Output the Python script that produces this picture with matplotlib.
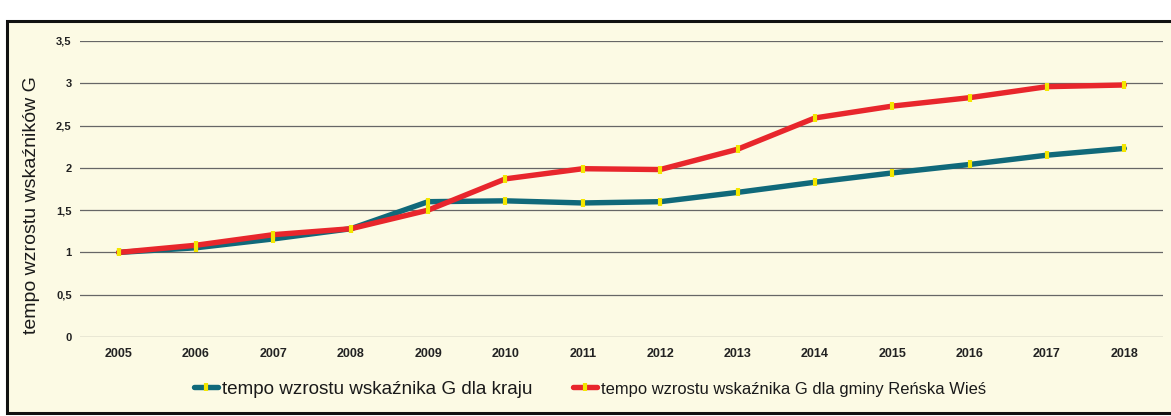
import matplotlib
matplotlib.use("Agg")
import matplotlib.pyplot as plt
from matplotlib.patches import Rectangle

years = ["2005", "2006", "2007", "2008", "2009", "2010", "2011",
         "2012", "2013", "2014", "2015", "2016", "2017", "2018"]
kraj = [1.00, 1.055, 1.16, 1.28, 1.60, 1.61, 1.585, 1.60, 1.71, 1.83, 1.94, 2.04, 2.15, 2.23]
gmina = [1.00, 1.085, 1.21, 1.28, 1.50, 1.87, 1.99, 1.98, 2.22, 2.59, 2.73, 2.83, 2.96, 2.98]
yticks = [0, 0.5, 1, 1.5, 2, 2.5, 3, 3.5]
ytick_labels = ["0", "0,5", "1", "1,5", "2", "2,5", "3", "3,5"]
label_kraj = "tempo wzrostu wskaźnika G dla kraju"
label_gmina = "tempo wzrostu wskaźnika G dla gminy Reńska Wieś"
ylabel = "tempo wzrostu wskaźników G"

W, H = 1171, 416
CREAM = "#fcfae4"
TEAL = "#10697a"
RED = "#e8262c"
YEL = "#f3e600"

plt.rcParams['font.family'] = ['Liberation Sans', 'DejaVu Sans']

fig = plt.figure(figsize=(W / 100, H / 100), dpi=100)
fig.patch.set_facecolor("white")
# cream panel with black frame
panel = Rectangle((7 / W, 3 / H), 1.2, (413 - 21) / H, transform=fig.transFigure,
                  facecolor=CREAM, edgecolor="#111111", linewidth=2.2, zorder=-10)
fig.add_artist(panel)

ax = fig.add_axes([80 / W, (H - 337) / H, (1163 - 80) / W, (337 - 41) / H])
ax.set_zorder(2)
ax.set_facecolor("none")
x = list(range(len(years)))

ax.plot(x, kraj, color=TEAL, lw=3.9, solid_capstyle="round", zorder=3,
        marker="|", markersize=5.5, markeredgewidth=3.0, markeredgecolor=YEL,
        label=label_kraj)
ax.plot(x, gmina, color=RED, lw=3.9, solid_capstyle="round", zorder=4,
        marker="|", markersize=5.5, markeredgewidth=3.0, markeredgecolor=YEL,
        label=label_gmina)

ax.set_xlim(-0.5, len(years) - 0.5)
ax.set_ylim(0, 3.5)
ax.set_yticks(yticks)
ax.set_yticklabels(ytick_labels)
ax.set_xticks(x)
ax.set_xticklabels(years)
ax.grid(axis="y", color="#666666", lw=0.9, zorder=1)
ax.set_axisbelow(True)
for s in ax.spines.values():
    s.set_visible(False)
ax.tick_params(axis="both", length=0, colors="#222222")
ax.tick_params(axis="x", pad=8, labelsize=9)
ax.tick_params(axis="y", pad=6, labelsize=8)
for t in ax.get_xticklabels() + ax.get_yticklabels():
    t.set_fontweight("bold")

fig.text(32 / W, (H - 205) / H, ylabel, rotation=90, ha="center", va="center",
         fontsize=14, color="#1a1a1a")

leg = fig.legend(loc="center", bbox_to_anchor=(590 / W, (H - 389) / H), ncol=2,
                 frameon=False, fontsize=13.6, handlelength=1.3, handletextpad=0.2,
                 columnspacing=2.15, numpoints=1)
texts = leg.get_texts()
for t in texts:
    t.set_color("#1a1a1a")
texts[1].set_fontsize(11.9)

fig.savefig("out.png", dpi=100, facecolor=fig.get_facecolor())
